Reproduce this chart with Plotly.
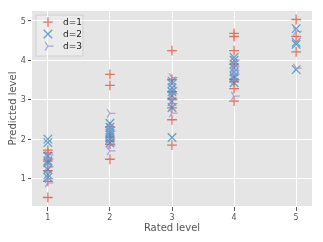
import plotly.graph_objects as go

# Rated level (x) for each group of predictions
x_d1 = [1]*6 + [2]*7 + [3]*7 + [4]*8 + [5]*3
y_d1 = [0.52, 0.93, 1.20, 1.44, 1.65, 1.72,
        1.49, 1.87, 1.95, 2.05, 2.31, 3.36, 3.64,
        1.85, 2.49, 2.79, 3.02, 3.20, 3.51, 4.24,
        2.96, 3.28, 3.45, 3.51, 3.90, 4.24, 4.60, 4.68,
        4.21, 4.60, 5.03]

x_d2 = [1]*8 + [2]*8 + [3]*8 + [4]*8 + [5]*4
y_d2 = [1.03, 1.10, 1.23, 1.40, 1.45, 1.57, 1.91, 2.00,
        1.90, 2.00, 2.05, 2.10, 2.15, 2.20, 2.30, 2.40,
        2.04, 2.80, 2.95, 3.10, 3.20, 3.30, 3.40, 3.47,
        3.43, 3.55, 3.60, 3.70, 3.80, 3.90, 4.00, 4.07,
        3.76, 4.40, 4.45, 4.80]

x_d3 = [1]*5 + [2]*6 + [3]*6 + [4]*6 + [5]*2
y_d3 = [0.89, 1.00, 1.30, 1.50, 1.60,
        1.70, 1.85, 2.00, 2.20, 2.30, 2.65,
        2.66, 2.90, 3.00, 3.15, 3.30, 3.56,
        3.09, 3.50, 3.65, 3.75, 3.85, 4.00,
        3.80, 4.73]

series_names = ["d=1", "d=2", "d=3"]
tick_vals_x = [1, 2, 3, 4, 5]
tick_vals_y = [1, 2, 3, 4, 5]

colors = ["#E24A33", "#348ABD", "#988ED5"]
symbols = ["cross-thin", "x-thin", "y-right"]
sizes = [7, 8.5, 7]
OPAC = 0.75

fig = go.Figure()
for xs, ys, name, c, s, sz in zip([x_d1, x_d2, x_d3], [y_d1, y_d2, y_d3],
                                   series_names, colors, symbols, sizes):
    fig.add_trace(go.Scatter(
        x=xs, y=ys, mode="markers", name=name, opacity=OPAC, showlegend=False,
        marker=dict(symbol=s, size=sz, color=c,
                    line=dict(color=c, width=1.3)),
    ))

# Custom compact legend (matplotlib style) on an overlay axis
leg_rows_y = [0.943, 0.882, 0.820]
for name, c, s, sz, ly in zip(series_names, colors, symbols, sizes, leg_rows_y):
    fig.add_trace(go.Scatter(
        x=[0.057], y=[ly], xaxis="x2", yaxis="y2", mode="markers",
        opacity=OPAC, showlegend=False, hoverinfo="skip",
        marker=dict(symbol=s, size=sz, color=c, line=dict(color=c, width=1.3)),
    ))
    fig.add_annotation(x=0.104, y=ly, xref="paper", yref="paper", text=name,
                       showarrow=False, xanchor="left", yanchor="middle",
                       font=dict(size=9, color="#222222", family="DejaVu Sans"))

fig.add_shape(type="rect", xref="paper", yref="paper",
              x0=0.0143, x1=0.182, y0=0.769, y1=0.979,
              fillcolor="#EBEBEB", line=dict(color="#D0D0D0", width=1),
              layer="below")

axis_common = dict(
    showgrid=True, gridcolor="white", gridwidth=1, zeroline=False,
    showline=False, ticks="outside", ticklen=3.5, tickwidth=1,
    tickcolor="#555555", tickfont=dict(size=8, color="#555555",
                                       family="DejaVu Sans"),
    title_font=dict(size=10, color="#555555", family="DejaVu Sans"),
    automargin=False,
)

fig.update_layout(
    width=323, height=242,
    autosize=False,
    margin=dict(l=32, r=11.3, t=11, b=36.3, pad=0, autoexpand=False),
    paper_bgcolor="white", plot_bgcolor="#E5E5E5",
    font=dict(family="DejaVu Sans", color="#333333"),
    showlegend=False,
    xaxis=dict(range=[0.745, 5.255], tickvals=tick_vals_x,
               title=dict(text="Rated level", standoff=1), **axis_common),
    yaxis=dict(range=[0.305, 5.246], tickvals=tick_vals_y,
               title=dict(text="Predicted level", standoff=2), **axis_common),
    xaxis2=dict(overlaying="x", range=[0, 1], visible=False, fixedrange=True,
                automargin=False),
    yaxis2=dict(overlaying="y", range=[0, 1], visible=False, fixedrange=True,
                automargin=False),
)

fig.write_html(
    "out.html",
    config={"displayModeBar": False},
    post_script="document.body.style.margin='0';"
                "document.body.style.overflow='hidden';",
)
